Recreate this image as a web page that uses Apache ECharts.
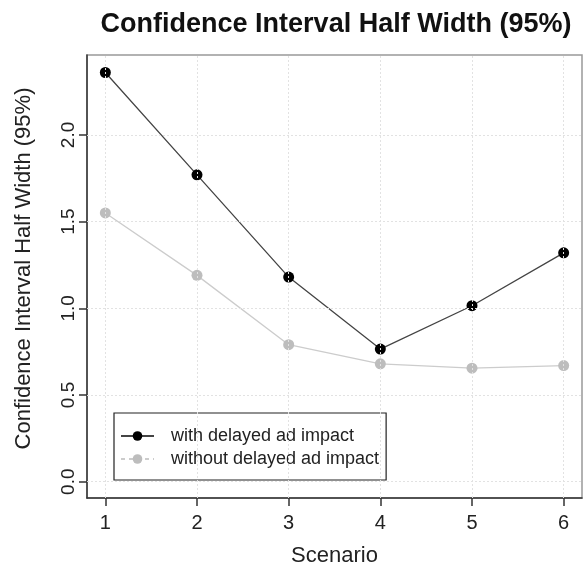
<!DOCTYPE html>
<html>
<head>
<meta charset="utf-8">
<script src="https://cdn.jsdelivr.net/npm/echarts@6/dist/echarts.min.js"></script>
<style>
html,body{margin:0;padding:0;background:#fff;}
#c{width:584px;height:571px;}
</style>
</head>
<body>
<div id="c"></div>
<script>
const scenarios = [1, 2, 3, 4, 5, 6];
const withDelayed = [2.36, 1.77, 1.18, 0.765, 1.015, 1.32];
const withoutDelayed = [1.55, 1.19, 0.79, 0.68, 0.655, 0.67];
const xTicks = [1, 2, 3, 4, 5, 6];
const yTicks = [0, 0.5, 1.0, 1.5, 2.0];
const seriesNames = ['with delayed ad impact', 'without delayed ad impact'];

const FONT = 'Liberation Sans, Arial, Helvetica, sans-serif';
const chart = echarts.init(document.getElementById('c'), null, {renderer: 'canvas'});

const gridLines = xTicks.map(v => ({xAxis: v})).concat(yTicks.map(v => ({yAxis: v})));

chart.setOption({
  animation: false,
  backgroundColor: '#fff',
  title: {
    text: 'Confidence Interval Half Width (95%)',
    left: 331, top: 6, textAlign: 'center',
    textStyle: {fontFamily: FONT, fontSize: 27, fontWeight: 'bold', color: '#111'}
  },
  grid: {left: 87, top: 55, right: 2, bottom: 73, outerBoundsMode: 'none', containLabel: false,
    show: true, borderColor: '#999', borderWidth: 1.5, backgroundColor: 'transparent'},
  legend: {
    orient: 'vertical', left: 114, top: 413,
    borderColor: '#222', borderWidth: 1.2, backgroundColor: '#fff',
    padding: [14, 7, 12, 6], itemWidth: 33, itemHeight: 12, itemGap: 5,
    textStyle: {fontFamily: FONT, fontSize: 18, color: '#222', padding: [0, 0, 0, 12]},
    data: [
      {name: seriesNames[0]},
      {name: seriesNames[1], lineStyle: {type: [4, 4]}}
    ]
  },
  xAxis: {
    type: 'value', min: 0.8, max: 6.2,
    name: 'Scenario', nameLocation: 'middle', nameGap: 47,
    nameTextStyle: {fontFamily: FONT, fontSize: 22, color: '#222'},
    axisLine: {show: true, onZero: false, lineStyle: {color: '#333', width: 1.5}},
    axisTick: {show: true, length: 8, customValues: xTicks, lineStyle: {color: '#333', width: 1.5}},
    axisLabel: {customValues: xTicks, margin: 15, fontFamily: FONT, fontSize: 20, color: '#222'},
    splitLine: {show: false}
  },
  yAxis: {
    type: 'value', min: -0.094, max: 2.461,
    name: 'Confidence Interval Half Width (95%)', nameLocation: 'middle', nameGap: 52,
    nameTextStyle: {fontFamily: FONT, fontSize: 22, color: '#222', padding: [0, 0, 0, 16]},
    axisLine: {show: true, onZero: false, lineStyle: {color: '#333', width: 1.5}},
    axisTick: {show: true, length: 8, customValues: yTicks, lineStyle: {color: '#333', width: 1.5}},
    axisLabel: {customValues: yTicks, rotate: 90, margin: 9, fontFamily: FONT, fontSize: 19, color: '#222',
      formatter: v => Number(v).toFixed(1)},
    splitLine: {show: false}
  },
  series: [
    {
      type: 'line', name: '__grid', data: [], silent: true, legendHoverLink: false,
      markLine: {silent: true, symbol: 'none', animation: false, label: {show: false},
        lineStyle: {color: '#e2e2e2', type: [2, 2], width: 1}, data: gridLines}
    },
    {
      type: 'line', name: seriesNames[1],
      data: scenarios.map((x, i) => [x, withoutDelayed[i]]),
      symbol: 'circle', symbolSize: 11,
      lineStyle: {color: '#cccccc', width: 1.3},
      itemStyle: {color: '#bdbdbd'}
    },
    {
      type: 'line', name: seriesNames[0],
      data: scenarios.map((x, i) => [x, withDelayed[i]]),
      symbol: 'circle', symbolSize: 11,
      lineStyle: {color: '#444', width: 1.3},
      itemStyle: {color: '#000'}
    }
  ]
});
</script>
</body>
</html>
